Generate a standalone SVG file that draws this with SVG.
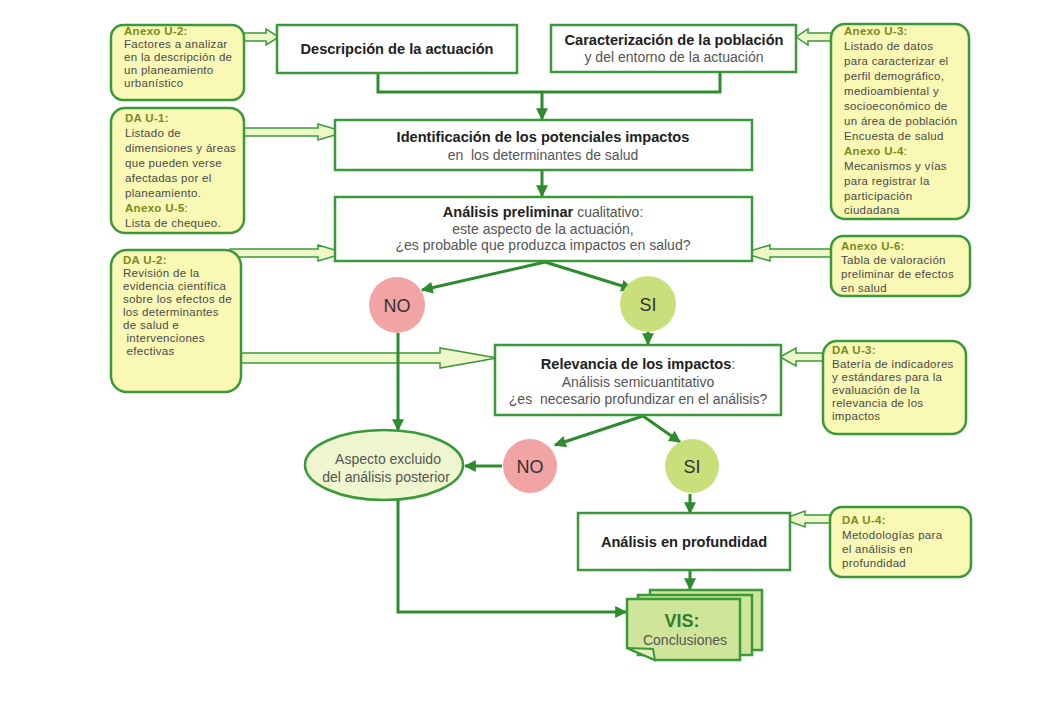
<svg xmlns="http://www.w3.org/2000/svg" width="1061" height="711" viewBox="0 0 1061 711">
<defs>
<marker id="ah" viewBox="0 0 10 10" refX="9" refY="5" markerWidth="4" markerHeight="4" orient="auto" markerUnits="strokeWidth"><path d="M0,0 L10,5 L0,10 z" fill="#2e8b2e"/></marker>
</defs>
<style>
.box{fill:#fff;stroke:#3a9a3a;stroke-width:2.5}
.side{fill:#f9f8b4;stroke:#3a9a3a;stroke-width:2.5}
.hol{fill:#eef7c8;stroke:#3a9a3a;stroke-width:1.5;stroke-linejoin:miter}
.con{fill:none;stroke:#2e8b2e;stroke-width:3}
.arr{fill:none;stroke:#2e8b2e;stroke-width:3;marker-end:url(#ah)}
text{font-family:"Liberation Sans",Arial,sans-serif}
.st{font-size:11.5px;fill:#4a4a4a;letter-spacing:0.3px}
.sh{font-size:11.5px;fill:#7b8a1e;font-weight:bold;letter-spacing:0.3px}
.b{font-size:14.6px;font-weight:bold;fill:#222}
.n{font-size:14px;fill:#555}
.c{text-anchor:middle}
.yn{font-size:18px;fill:#333;text-anchor:middle}
</style>
<rect width="1061" height="711" fill="#fff"/>

<g id="connectors">
<!-- hollow block arrows -->
<polygon class="hol" points="236,33 266,33 266,29 279,37 266,45 266,41 236,41"/>
<polygon class="hol" points="836,33 808,33 808,29 796,37 808,45 808,41 836,41"/>
<polygon class="hol" points="235,128 318,128 318,124 345,132 318,140 318,136 235,136"/>
<polygon class="hol" points="230,249 318,249 318,245 345,253 318,261 318,257 230,257"/>
<polygon class="hol" points="836,249 770,249 770,245 743,253 770,261 770,257 836,257"/>
<polygon class="hol" points="230,353 440,353 440,348 497,358 440,368 440,363 230,363"/>
<polygon class="hol" points="832,353 796,353 796,348 780,357 796,366 796,361 832,361"/>
<polygon class="hol" points="838,515 805,515 805,511 783,519 805,527 805,523 838,523"/>
<!-- flow lines -->
<polyline class="con" points="378,73 378,92 720,92 720,72"/>
<line class="arr" x1="542" y1="92" x2="542" y2="119"/>
<line class="arr" x1="542" y1="170" x2="542" y2="196"/>
<line class="arr" x1="545" y1="262" x2="422" y2="290"/>
<line class="arr" x1="545" y1="262" x2="632" y2="289"/>
<line class="arr" x1="648" y1="332" x2="648" y2="344"/>
<line class="arr" x1="398" y1="333" x2="398" y2="430"/>
<line class="arr" x1="643" y1="416" x2="555" y2="445"/>
<line class="arr" x1="643" y1="416" x2="680" y2="442"/>
<line class="arr" x1="502" y1="466" x2="465" y2="466"/>
<line class="arr" x1="690" y1="494" x2="690" y2="513"/>
<line class="arr" x1="690" y1="570" x2="690" y2="589"/>
<polyline class="arr" points="398,500 398,612 626,612"/>
</g>

<g id="anexo-u2">
<rect class="side" x="111" y="25" width="133" height="75" rx="12"/>
<text class="sh" x="124" y="35">Anexo U-2:</text>
<text class="st" x="124" y="48">Factores a analizar</text>
<text class="st" x="124" y="61">en la descripción de</text>
<text class="st" x="124" y="74">un planeamiento</text>
<text class="st" x="124" y="87">urbanístico</text>
</g>

<g id="descripcion">
<rect class="box" x="277" y="25" width="240" height="48"/>
<text class="b c" x="397" y="54">Descripción de la actuación</text>
</g>

<g id="caracterizacion">
<rect class="box" x="551" y="25" width="245" height="47"/>
<text class="b c" x="674" y="45">Caracterización de la población</text>
<text class="n c" x="674" y="62">y del entorno de la actuación</text>
</g>

<g id="anexo-u3">
<rect class="side" x="831" y="24" width="138" height="195" rx="14"/>
<text class="sh" x="844" y="35">Anexo U-3:</text>
<text class="st" x="844" y="50">Listado de datos</text>
<text class="st" x="844" y="65">para caracterizar el</text>
<text class="st" x="844" y="80">perfil demográfico,</text>
<text class="st" x="844" y="95">medioambiental y</text>
<text class="st" x="844" y="110">socioeconómico de</text>
<text class="st" x="844" y="125">un área de población</text>
<text class="st" x="844" y="140">Encuesta de salud</text>
<text class="sh" x="844" y="155">Anexo U-4<tspan class="st" font-weight="normal">:</tspan></text>
<text class="st" x="844" y="170">Mecanismos y vías</text>
<text class="st" x="844" y="185">para registrar la</text>
<text class="st" x="844" y="200">participación</text>
<text class="st" x="844" y="214">ciudadana</text>
</g>

<g id="da-u1">
<rect class="side" x="111" y="108" width="133" height="125" rx="14"/>
<text class="sh" x="125" y="122">DA U-1:</text>
<text class="st" x="125" y="137">Listado de</text>
<text class="st" x="125" y="152">dimensiones y áreas</text>
<text class="st" x="125" y="167">que pueden verse</text>
<text class="st" x="125" y="182">afectadas por el</text>
<text class="st" x="125" y="197">planeamiento.</text>
<text class="sh" x="125" y="212">Anexo U-5<tspan class="st" font-weight="normal">:</tspan></text>
<text class="st" x="125" y="227">Lista de chequeo.</text>
</g>

<g id="identificacion">
<rect class="box" x="335" y="120" width="417" height="50"/>
<text class="b c" x="543" y="142">Identificación de los potenciales impactos</text>
<text class="n c" x="543" y="160" xml:space="preserve">en  los determinantes de salud</text>
</g>

<g id="preliminar">
<rect class="box" x="335" y="197" width="417" height="64"/>
<text class="n c" x="543" y="217"><tspan class="b">Análisis preliminar</tspan> cualitativo:</text>
<text class="n c" x="543" y="234">este aspecto de la actuación,</text>
<text class="n c" x="543" y="250">¿es probable que produzca impactos en salud?</text>
</g>

<g id="da-u2">
<rect class="side" x="111" y="250" width="130" height="142" rx="16"/>
<text class="sh" x="123" y="264">DA U-2:</text>
<text class="st" x="123" y="277">Revisión de la</text>
<text class="st" x="123" y="290">evidencia científica</text>
<text class="st" x="123" y="303">sobre los efectos de</text>
<text class="st" x="123" y="316">los determinantes</text>
<text class="st" x="123" y="329">de salud e</text>
<text class="st" x="123" y="342" xml:space="preserve"> intervenciones</text>
<text class="st" x="123" y="355" xml:space="preserve"> efectivas</text>
</g>

<g id="anexo-u6">
<rect class="side" x="831" y="236" width="139" height="60" rx="12"/>
<text class="sh" x="841" y="250">Anexo U-6:</text>
<text class="st" x="841" y="264">Tabla de valoración</text>
<text class="st" x="841" y="278">preliminar de efectos</text>
<text class="st" x="841" y="292">en salud</text>
</g>

<g id="no1">
<circle cx="397" cy="305" r="28" fill="#f2a3a3"/>
<text class="yn" x="397" y="312">NO</text>
</g>

<g id="si1">
<circle cx="648" cy="304" r="28" fill="#c9df7c"/>
<text class="yn" x="648" y="311">SI</text>
</g>

<g id="relevancia">
<rect class="box" x="495" y="345" width="286" height="70"/>
<text class="n c" x="638" y="369"><tspan class="b">Relevancia de los impactos</tspan>:</text>
<text class="n c" x="638" y="387">Análisis semicuantitativo</text>
<text class="n c" x="638" y="404" xml:space="preserve">¿es  necesario profundizar en el análisis?</text>
</g>

<g id="da-u3">
<rect class="side" x="823" y="341" width="143" height="93" rx="14"/>
<text class="sh" x="832" y="354">DA U-3:</text>
<text class="st" x="832" y="368">Batería de indicadores</text>
<text class="st" x="832" y="381">y estándares para la</text>
<text class="st" x="832" y="394">evaluación de la</text>
<text class="st" x="832" y="407">relevancia de los</text>
<text class="st" x="832" y="420">impactos</text>
</g>

<g id="excluido">
<ellipse cx="384" cy="465" rx="79" ry="35" fill="#eef5cf" stroke="#3a9a3a" stroke-width="2.5"/>
<text class="n c" x="388" y="464">Aspecto excluido</text>
<text class="n c" x="386" y="482">del análisis posterior</text>
</g>

<g id="no2">
<circle cx="530" cy="466" r="27" fill="#f2a3a3"/>
<text class="yn" x="530" y="473">NO</text>
</g>

<g id="si2">
<circle cx="692" cy="466" r="27" fill="#c9df7c"/>
<text class="yn" x="692" y="473">SI</text>
</g>

<g id="profundidad">
<rect class="box" x="578" y="513" width="212" height="57"/>
<text class="b c" x="684" y="547">Análisis en profundidad</text>
</g>

<g id="da-u4">
<rect class="side" x="830" y="507" width="141" height="70" rx="12"/>
<text class="sh" x="842" y="524">DA U-4:</text>
<text class="st" x="842" y="539">Metodologías para</text>
<text class="st" x="842" y="553">el análisis en</text>
<text class="st" x="842" y="567">profundidad</text>
</g>

<g id="vis">
<rect x="650" y="590" width="112" height="60" fill="#cfe59a" stroke="#3a9a3a" stroke-width="2.5"/>
<rect x="638" y="595" width="114" height="60" fill="#cfe59a" stroke="#3a9a3a" stroke-width="2.5"/>
<path d="M627,599 L740,599 L740,660 L655,660 L627,648 Z" fill="#cfe59a" stroke="#3a9a3a" stroke-width="2.5"/>
<path d="M627,648 L653,649 L655,660 Z" fill="#e8f2c0" stroke="#3a9a3a" stroke-width="2"/>
<text class="c" x="682" y="627" font-size="18" font-weight="bold" fill="#2f7f2f">VIS:</text>
<text class="c" x="685" y="645" font-size="14" fill="#555">Conclusiones</text>
</g>
</svg>
